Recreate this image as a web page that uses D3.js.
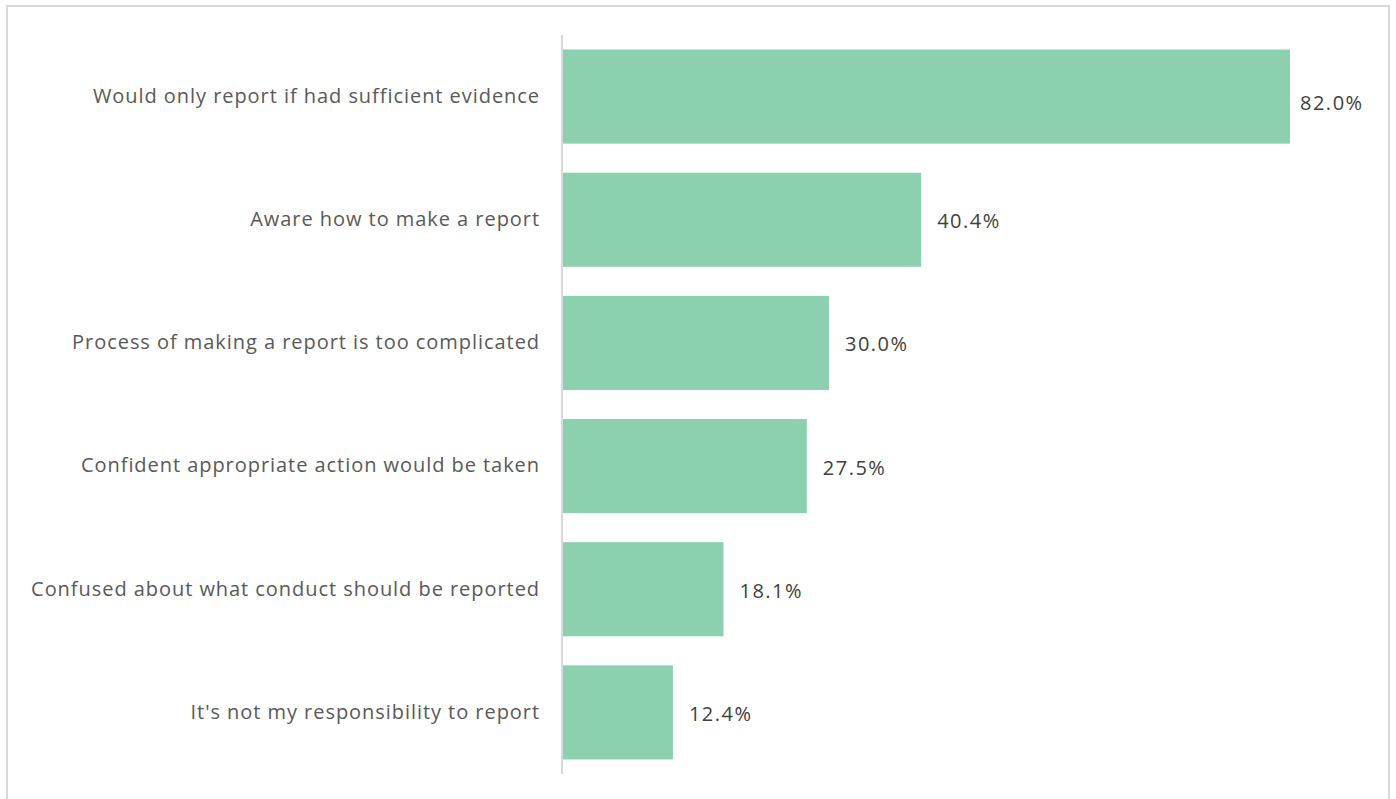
<!DOCTYPE html>
<html>
<head>
<meta charset="utf-8">
<script src="https://cdn.jsdelivr.net/npm/d3@7"></script>
<style>
  html, body { margin: 0; padding: 0; background: #fff; }
  svg { display: block; }
</style>
</head>
<body>
<script>
// Survey responses about reporting misconduct (% of respondents)
const categories = [
  "Would only report if had sufficient evidence",
  "Aware how to make a report",
  "Process of making a report is too complicated",
  "Confident appropriate action would be taken",
  "Confused about what conduct should be reported",
  "It's not my responsibility to report"
];
const values = [82.0, 40.4, 30.0, 27.5, 18.1, 12.4];

const W = 1396, H = 799;
const svg = d3.select("body").append("svg").attr("width", W).attr("height", H);

// chart frame
svg.append("rect")
  .attr("x", 7).attr("y", 6).attr("width", 1382).attr("height", 820)
  .attr("fill", "#fff").attr("stroke", "#d9d9d9").attr("stroke-width", 2);

const x0 = 563, plotTop = 35, plotBottom = 774, labelMaxX = 1300;
const x = d3.scaleLinear().domain([0, 82]).range([x0, 1290]);
const y = d3.scaleBand().domain(categories).range([plotTop, plotBottom]).paddingInner(0.236).paddingOuter(0.118);

const font = "'Open Sans', 'Noto Sans', sans-serif";

svg.append("g").selectAll("rect").data(values).join("rect")
  .attr("x", x(0))
  .attr("y", (d, i) => y(categories[i]))
  .attr("width", d => x(d) - x(0))
  .attr("height", y.bandwidth())
  .attr("fill", "#8dd0b0");

// category axis
const axis = svg.append("g").attr("transform", `translate(${x0},0)`)
  .call(d3.axisLeft(y).tickSize(0).tickPadding(23));
axis.select(".domain").remove();
axis.append("line").attr("x1", -1).attr("x2", -1).attr("y1", plotTop).attr("y2", plotBottom)
  .attr("stroke", "#d9d9d9").attr("stroke-width", 2);
axis.selectAll(".tick text")
  .attr("fill", "#595959")
  .style("font-family", font).style("font-size", "20px").style("letter-spacing", "0.95px");

// value labels; a label that would run past the plot edge is pulled in and dropped slightly
svg.append("g").selectAll("text").data(values).join("text")
  .each(function (d, i) {
    const want = x(d) + 16;
    const clamped = want > labelMaxX;
    d3.select(this)
      .attr("x", clamped ? labelMaxX : want)
      .attr("y", y(categories[i]) + y.bandwidth() / 2 + (clamped ? 6.5 : 1.5));
  })
  .attr("dy", "0.35em")
  .attr("fill", "#404040")
  .style("font-family", font).style("font-size", "20px").style("letter-spacing", "1.5px")
  .text(d => d.toFixed(1) + "%");
</script>
</body>
</html>
